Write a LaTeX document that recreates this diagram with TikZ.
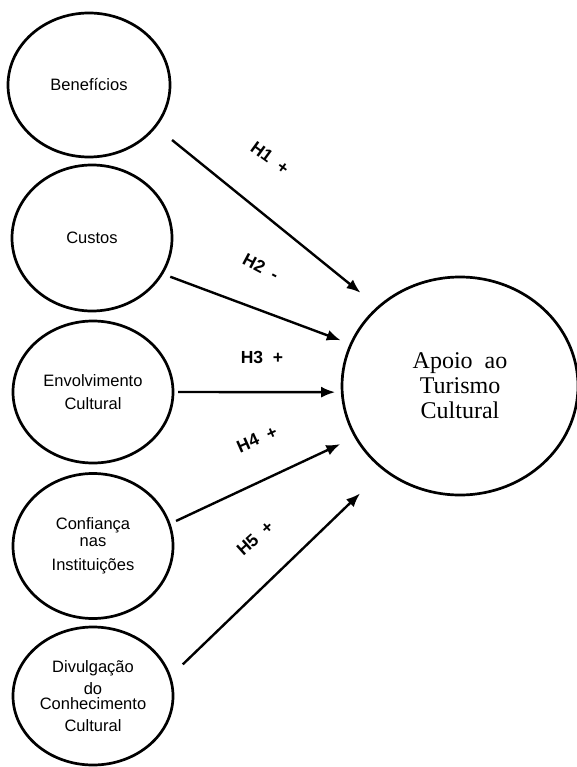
\documentclass[tikz,border=0pt]{standalone}
\usepackage{fontspec}
\setmainfont{Liberation Serif}
\setsansfont{Liberation Sans}
\usepackage{tikz}
\usetikzlibrary{arrows.meta,shapes.geometric}

\begin{document}
\begin{tikzpicture}[
  x=1pt, y=-1pt,
  var/.style={ellipse, draw, line width=2.7pt, inner sep=0pt, outer sep=0pt, minimum width=160pt, align=center, font=\sffamily\fontsize{16.5}{20}\selectfont},
  target/.style={ellipse, draw, line width=2.7pt, inner sep=0pt, outer sep=0pt, minimum width=236pt, minimum height=218pt, align=center, font=\fontsize{24}{25}\selectfont},
  arr/.style={-{Latex[length=14pt,width=11pt]}, line width=2.4pt},
  hyp/.style={font=\sffamily\bfseries\fontsize{17.5}{20}\selectfont}
]
\useasboundingbox (0,0) rectangle (576,767);
\node[var, minimum width=162pt, minimum height=144pt] (ben) at (89,85) {Benefícios};
\node[var, minimum height=146pt] (cus) at (92,238) {Custos};
\node[var, minimum height=142pt] (env) at (93,392) {Envolvimento\\[3pt]Cultural};
\node[var, minimum height=145pt] (con) at (93,546) {Confiança\\[-3pt]nas\\[4pt]Instituições};
\node[var, minimum height=138pt] (div) at (93,696) {Divulgação\\[2pt]do\\[-5pt]Conhecimento\\[2pt]Cultural};
\node[target] (apoio) at (460,386) {Apoio\ \ ao\\Turismo\\Cultural};
\node[hyp, rotate=-36] (h1) at (270,158) {H1\ \ +};
\node[hyp, rotate=-28] (h2) at (261,267) {H2\ \ -};
\node[hyp] (h3) at (262,357) {H3\ \ +};
\node[hyp, rotate=24] (h4) at (257,439) {H4\ \ +};
\node[hyp, rotate=42] (h5) at (255,538) {H5\ \ +};
\draw[arr, shorten <=21.6pt, shorten >=23pt] (ben.-32) -- (apoio.136.3);
\draw[arr, shorten <=9pt, shorten >=11pt] (cus.-27.2) -- (apoio.159.9);
\draw[arr, shorten <=5pt, shorten >=7pt] (env.0) -- (apoio.-177.1);
\draw[arr, shorten <=7.5pt, shorten >=17pt] (con.16) -- (apoio.-154.1);
\draw[arr, shorten <=18pt, shorten >=34pt] (div.14) -- (apoio.-132.6);
\end{tikzpicture}
\end{document}
